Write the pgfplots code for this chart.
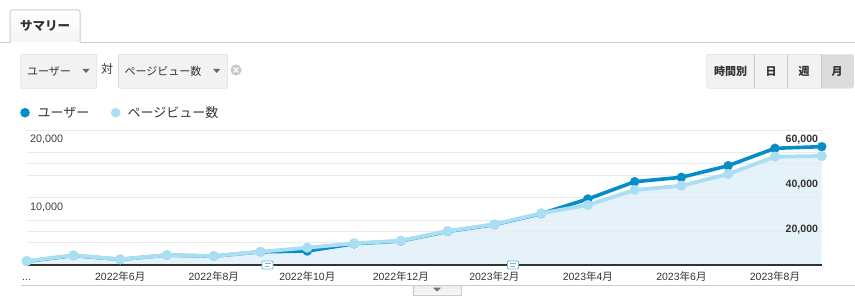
\documentclass[border=0pt]{standalone}
\usepackage{pgfplots}
\pgfplotsset{compat=1.18}
\usepackage{pgfplotstable}
\usepackage{fontspec}
\setmainfont{Liberation Sans}
\newfontfamily\cjk{Noto Sans CJK JP}
\definecolor{gablue}{HTML}{058DC7}
\definecolor{galight}{HTML}{AADFF3}
\definecolor{areafill}{HTML}{E2F0F8}
\definecolor{gridc}{HTML}{EAEAEA}
\definecolor{txt}{HTML}{333333}
\definecolor{btn}{HTML}{F2F2F2}
\definecolor{btnpressed}{HTML}{DCDCDC}
\definecolor{btnborder}{HTML}{CCCCCC}
\definecolor{axisdark}{HTML}{333333}
\newcommand\ym[2]{#1{\cjk 年}#2{\cjk 月}}
\newcommand\mydots{.\kern0.3pt.\kern0.3pt.}

\pgfplotstableread{
x users pv
0 540 1780
1 1400 4310
2 830 2530
3 1460 4440
4 1310 4000
5 1950 5910
6 2074 7690
7 3150 9640
8 3550 10800
9 4980 15110
10 5980 18090
11 7600 22980
12 9780 26670
13 12340 33330
14 12990 35240
15 14710 40440
16 17290 48130
17 17530 48440
}\datatable

\pgfplotsset{
  base/.style={
    at={(26.7pt,35pt)}, anchor=south west,
    scale only axis, width=795pt, height=135pt,
    xmin=0, xmax=17, ymin=0,
    axis line style={draw=none},
    major tick length=0pt,
    clip=false,
    xtick=\empty,
    scaled y ticks=false, scaled x ticks=false,
    grid style={color=gridc, line width=1pt},
  }
}

\begin{document}
\begin{tikzpicture}[x=1pt,y=1pt]
\useasboundingbox (0,0) rectangle (855,300);

% ---- top tab bar ----
\draw[btnborder, line width=1pt] (0,257) -- (855,257);
\fill[top color=white, bottom color=white!96!black] (10,257.5) rectangle (80,290);
\draw[btnborder, line width=1pt, rounded corners=2pt] (10,257) -- (10,290) -- (80,290) -- (80,257);
\fill[white] (10.5,256) rectangle (79.5,258);
\node[font=\cjk\bfseries\fontsize{12.5}{14}\selectfont, text=txt] at (45,274) {サマリー};

% ---- dropdowns ----
\draw[btnborder, fill=btn, rounded corners=2pt] (20.7,211.7) rectangle (96.7,245.7);
\node[anchor=west, font=\cjk\fontsize{11}{13}\selectfont, text=txt, inner sep=0] at (27,229) {ユーザー};
\fill[black!60] (82.5,231) -- (89.5,231) -- (86,227) -- cycle;
\node[font=\cjk\fontsize{12}{14}\selectfont, text=txt] at (107,231) {対};
\draw[btnborder, fill=btn, rounded corners=2pt] (118.3,211.7) rectangle (227.7,245.7);
\node[anchor=west, font=\cjk\fontsize{11}{13}\selectfont, text=txt, inner sep=0] at (124.5,229) {ページビュー数};
\fill[black!60] (213.2,231) -- (220.2,231) -- (216.7,227) -- cycle;
\fill[black!22] (236,230) circle (5.5);
\draw[white, line width=1.3pt] (233.5,227.5) -- (238.5,232.5) (233.5,232.5) -- (238.5,227.5);

% ---- right button group ----
\draw[btnborder, fill=btn, rounded corners=2pt] (706.7,211.7) rectangle (853.3,245.7);
\fill[btnpressed, rounded corners=2pt] (821.2,212.2) rectangle (852.8,245.2);
\draw[btnborder] (754.3,211.7) -- (754.3,245.7) (787.3,211.7) -- (787.3,245.7) (820.7,211.7) -- (820.7,245.7);
\begin{scope}[every node/.style={font=\cjk\bfseries\fontsize{11}{13}\selectfont, text=txt}]
\node at (730.5,228.5) {時間別};
\node at (771,228.5) {日};
\node at (804,228.5) {週};
\node at (837,228.5) {月};
\end{scope}

% ---- legend ----
\fill[gablue] (25,187.3) circle (4.8);
\node[anchor=west, font=\cjk\fontsize{13}{15}\selectfont, text=txt, inner sep=0] at (37.5,187.3) {ユーザー};
\fill[galight] (115.7,187.3) circle (4.8);
\node[anchor=west, font=\cjk\fontsize{13}{15}\selectfont, text=txt, inner sep=0] at (127.5,187.3) {ページビュー数};

% ---- axis A: right-scale grid + area ----
\begin{axis}[base, ymax=60000,
  ytick={10000,20000,30000,40000,50000,60000}, yticklabels={},
  ymajorgrids]
\addplot[draw=none, fill=areafill, fill opacity=0.85] table[x=x, y=pv] {\datatable} \closedcycle;
\end{axis}

% ---- axis B: left scale, users ----
\begin{axis}[base, ymax=20000,
  ytick={0,5000,10000,15000,20000},
  yticklabels={{},{},{10,000},{},{20,000}},
  ymajorgrids,
  yticklabel style={anchor=north west, inner sep=0pt, xshift=3.3pt, yshift=-5pt,
    font=\fontsize{10.8}{12}\selectfont, text=black!75},
  xtick={0,2,4,6,8,10,12,14,16},
  xticklabels={{\mydots},{\ym{2022}{6}},{\ym{2022}{8}},{\ym{2022}{10}},{\ym{2022}{12}},{\ym{2023}{2}},{\ym{2023}{4}},{\ym{2023}{6}},{\ym{2023}{8}}},
  xticklabel style={anchor=north, inner sep=0pt, yshift=-6.5pt, text height=8.5pt,
    font=\fontsize{10.5}{12}\selectfont, text=txt},
  ]
\draw[axisdark, line width=1.2pt] (rel axis cs:0,0) -- (rel axis cs:1,0);
\addplot[gablue, line width=3.6pt, line join=round, mark=*, mark size=4.6pt,
  mark options={fill=gablue, draw=gablue, line width=0.1pt}] table[x=x, y=users] {\datatable};
\end{axis}

% ---- axis C: right scale, pageviews ----
\begin{axis}[base, ymax=60000,
  ytick={20000,40000,60000},
  yticklabels={{20,000},{40,000},{60,000}},
  yticklabel pos=right,
  yticklabel style={anchor=north east, inner sep=0pt, xshift=-3.4pt, yshift=-5pt,
    font=\bfseries\fontsize{10.6}{12}\selectfont, text=black!80},
  ]
\addplot[galight, line width=3.8pt, line join=round, mark=*, mark size=5pt,
  mark options={fill=galight, draw=galight, line width=0.1pt}] table[x=x, y=pv] {\datatable};
\end{axis}

% ---- annotation icons ----
\foreach \ax in {267.5,513} {
  \draw[fill=white, draw=gablue!60, line width=0.9pt, rounded corners=1pt] (\ax-5.5,31) rectangle (\ax+5.5,39);
  \draw[gablue!60, line width=0.8pt] (\ax-3,36.2) -- (\ax+3,36.2) (\ax-3,33.8) -- (\ax+1.5,33.8);
}

% ---- bottom bar ----
\draw[btnborder, line width=1pt] (20.7,14.3) -- (855,14.3);
\draw[btnborder, top color=white!93!black, bottom color=white!97!black] (412.7,5) rectangle (461,14.3);
\fill[black!55] (433,12.3) -- (441,12.3) -- (437,8.5) -- cycle;
\end{tikzpicture}
\end{document}
